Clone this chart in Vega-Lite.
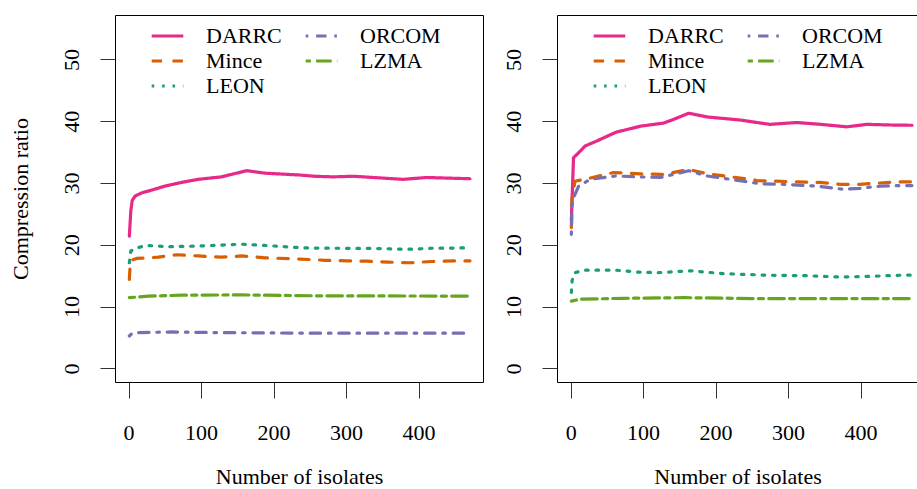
{
  "$schema": "https://vega.github.io/schema/vega-lite/v6.json",
  "background": "white",
  "padding": {"left": 9, "top": 14, "right": 0, "bottom": 0},
  "datasets": {
    "curves": [
      {"panel":"A","method":"DARRC","isolates":1,"ratio":21.4},{"panel":"A","method":"DARRC","isolates":3,"ratio":25.5},{"panel":"A","method":"DARRC","isolates":5,"ratio":27.2},{"panel":"A","method":"DARRC","isolates":9,"ratio":27.9},{"panel":"A","method":"DARRC","isolates":18,"ratio":28.4},{"panel":"A","method":"DARRC","isolates":36,"ratio":29.0},{"panel":"A","method":"DARRC","isolates":50,"ratio":29.5},{"panel":"A","method":"DARRC","isolates":73,"ratio":30.1},{"panel":"A","method":"DARRC","isolates":96,"ratio":30.6},{"panel":"A","method":"DARRC","isolates":128,"ratio":31.0},{"panel":"A","method":"DARRC","isolates":142,"ratio":31.4},{"panel":"A","method":"DARRC","isolates":163,"ratio":32.0},{"panel":"A","method":"DARRC","isolates":188,"ratio":31.6},{"panel":"A","method":"DARRC","isolates":236,"ratio":31.3},{"panel":"A","method":"DARRC","isolates":257,"ratio":31.1},{"panel":"A","method":"DARRC","isolates":282,"ratio":31.0},{"panel":"A","method":"DARRC","isolates":310,"ratio":31.1},{"panel":"A","method":"DARRC","isolates":351,"ratio":30.8},{"panel":"A","method":"DARRC","isolates":379,"ratio":30.6},{"panel":"A","method":"DARRC","isolates":411,"ratio":30.9},{"panel":"A","method":"DARRC","isolates":440,"ratio":30.8},{"panel":"A","method":"DARRC","isolates":471,"ratio":30.7},
      {"panel":"A","method":"Mince","isolates":1,"ratio":14.4},{"panel":"A","method":"Mince","isolates":2,"ratio":16.5},{"panel":"A","method":"Mince","isolates":4,"ratio":17.5},{"panel":"A","method":"Mince","isolates":11,"ratio":17.8},{"panel":"A","method":"Mince","isolates":41,"ratio":18.0},{"panel":"A","method":"Mince","isolates":66,"ratio":18.4},{"panel":"A","method":"Mince","isolates":96,"ratio":18.2},{"panel":"A","method":"Mince","isolates":128,"ratio":18.0},{"panel":"A","method":"Mince","isolates":156,"ratio":18.2},{"panel":"A","method":"Mince","isolates":188,"ratio":17.9},{"panel":"A","method":"Mince","isolates":236,"ratio":17.7},{"panel":"A","method":"Mince","isolates":271,"ratio":17.5},{"panel":"A","method":"Mince","isolates":301,"ratio":17.4},{"panel":"A","method":"Mince","isolates":329,"ratio":17.35},{"panel":"A","method":"Mince","isolates":358,"ratio":17.2},{"panel":"A","method":"Mince","isolates":388,"ratio":17.1},{"panel":"A","method":"Mince","isolates":418,"ratio":17.3},{"panel":"A","method":"Mince","isolates":448,"ratio":17.4},{"panel":"A","method":"Mince","isolates":471,"ratio":17.4},
      {"panel":"A","method":"LEON","isolates":1,"ratio":17.1},{"panel":"A","method":"LEON","isolates":3,"ratio":19.0},{"panel":"A","method":"LEON","isolates":11,"ratio":19.5},{"panel":"A","method":"LEON","isolates":25,"ratio":19.9},{"panel":"A","method":"LEON","isolates":54,"ratio":19.7},{"panel":"A","method":"LEON","isolates":96,"ratio":19.8},{"panel":"A","method":"LEON","isolates":156,"ratio":20.1},{"panel":"A","method":"LEON","isolates":188,"ratio":19.9},{"panel":"A","method":"LEON","isolates":243,"ratio":19.5},{"panel":"A","method":"LEON","isolates":288,"ratio":19.45},{"panel":"A","method":"LEON","isolates":347,"ratio":19.4},{"panel":"A","method":"LEON","isolates":377,"ratio":19.3},{"panel":"A","method":"LEON","isolates":391,"ratio":19.3},{"panel":"A","method":"LEON","isolates":420,"ratio":19.45},{"panel":"A","method":"LEON","isolates":464,"ratio":19.5},{"panel":"A","method":"LEON","isolates":471,"ratio":19.5},
      {"panel":"A","method":"ORCOM","isolates":1,"ratio":5.25},{"panel":"A","method":"ORCOM","isolates":5,"ratio":5.7},{"panel":"A","method":"ORCOM","isolates":13,"ratio":5.8},{"panel":"A","method":"ORCOM","isolates":59,"ratio":5.9},{"panel":"A","method":"ORCOM","isolates":119,"ratio":5.8},{"panel":"A","method":"ORCOM","isolates":257,"ratio":5.7},{"panel":"A","method":"ORCOM","isolates":471,"ratio":5.7},
      {"panel":"A","method":"LZMA","isolates":1,"ratio":11.45},{"panel":"A","method":"LZMA","isolates":27,"ratio":11.7},{"panel":"A","method":"LZMA","isolates":73,"ratio":11.85},{"panel":"A","method":"LZMA","isolates":156,"ratio":11.9},{"panel":"A","method":"LZMA","isolates":257,"ratio":11.75},{"panel":"A","method":"LZMA","isolates":471,"ratio":11.7},
      {"panel":"B","method":"DARRC","isolates":1,"ratio":24.0},{"panel":"B","method":"DARRC","isolates":4,"ratio":34.1},{"panel":"B","method":"DARRC","isolates":11,"ratio":34.9},{"panel":"B","method":"DARRC","isolates":20,"ratio":36.0},{"panel":"B","method":"DARRC","isolates":36,"ratio":36.8},{"panel":"B","method":"DARRC","isolates":62,"ratio":38.2},{"panel":"B","method":"DARRC","isolates":96,"ratio":39.2},{"panel":"B","method":"DARRC","isolates":128,"ratio":39.7},{"panel":"B","method":"DARRC","isolates":142,"ratio":40.3},{"panel":"B","method":"DARRC","isolates":163,"ratio":41.3},{"panel":"B","method":"DARRC","isolates":188,"ratio":40.7},{"panel":"B","method":"DARRC","isolates":234,"ratio":40.2},{"panel":"B","method":"DARRC","isolates":257,"ratio":39.8},{"panel":"B","method":"DARRC","isolates":275,"ratio":39.5},{"panel":"B","method":"DARRC","isolates":312,"ratio":39.8},{"panel":"B","method":"DARRC","isolates":345,"ratio":39.5},{"panel":"B","method":"DARRC","isolates":381,"ratio":39.1},{"panel":"B","method":"DARRC","isolates":409,"ratio":39.5},{"panel":"B","method":"DARRC","isolates":440,"ratio":39.4},{"panel":"B","method":"DARRC","isolates":471,"ratio":39.35},
      {"panel":"B","method":"Mince","isolates":1,"ratio":22.8},{"panel":"B","method":"Mince","isolates":2,"ratio":27.6},{"panel":"B","method":"Mince","isolates":6,"ratio":30.3},{"panel":"B","method":"Mince","isolates":27,"ratio":30.8},{"panel":"B","method":"Mince","isolates":59,"ratio":31.7},{"panel":"B","method":"Mince","isolates":96,"ratio":31.5},{"panel":"B","method":"Mince","isolates":128,"ratio":31.4},{"panel":"B","method":"Mince","isolates":163,"ratio":32.2},{"panel":"B","method":"Mince","isolates":188,"ratio":31.5},{"panel":"B","method":"Mince","isolates":248,"ratio":30.6},{"panel":"B","method":"Mince","isolates":257,"ratio":30.4},{"panel":"B","method":"Mince","isolates":284,"ratio":30.3},{"panel":"B","method":"Mince","isolates":312,"ratio":30.2},{"panel":"B","method":"Mince","isolates":344,"ratio":30.1},{"panel":"B","method":"Mince","isolates":372,"ratio":29.8},{"panel":"B","method":"Mince","isolates":399,"ratio":29.8},{"panel":"B","method":"Mince","isolates":431,"ratio":30.05},{"panel":"B","method":"Mince","isolates":459,"ratio":30.2},{"panel":"B","method":"Mince","isolates":471,"ratio":30.2},
      {"panel":"B","method":"LEON","isolates":1,"ratio":12.3},{"panel":"B","method":"LEON","isolates":2,"ratio":14.2},{"panel":"B","method":"LEON","isolates":6,"ratio":15.5},{"panel":"B","method":"LEON","isolates":20,"ratio":15.9},{"panel":"B","method":"LEON","isolates":62,"ratio":15.9},{"panel":"B","method":"LEON","isolates":92,"ratio":15.6},{"panel":"B","method":"LEON","isolates":121,"ratio":15.5},{"panel":"B","method":"LEON","isolates":165,"ratio":15.8},{"panel":"B","method":"LEON","isolates":209,"ratio":15.35},{"panel":"B","method":"LEON","isolates":266,"ratio":15.1},{"panel":"B","method":"LEON","isolates":326,"ratio":15.0},{"panel":"B","method":"LEON","isolates":370,"ratio":14.8},{"panel":"B","method":"LEON","isolates":400,"ratio":14.85},{"panel":"B","method":"LEON","isolates":460,"ratio":15.1},{"panel":"B","method":"LEON","isolates":471,"ratio":15.1},
      {"panel":"B","method":"ORCOM","isolates":1,"ratio":21.7},{"panel":"B","method":"ORCOM","isolates":2,"ratio":27.1},{"panel":"B","method":"ORCOM","isolates":11,"ratio":29.5},{"panel":"B","method":"ORCOM","isolates":27,"ratio":30.6},{"panel":"B","method":"ORCOM","isolates":62,"ratio":31.15},{"panel":"B","method":"ORCOM","isolates":96,"ratio":31.0},{"panel":"B","method":"ORCOM","isolates":124,"ratio":30.9},{"panel":"B","method":"ORCOM","isolates":163,"ratio":32.0},{"panel":"B","method":"ORCOM","isolates":188,"ratio":31.15},{"panel":"B","method":"ORCOM","isolates":238,"ratio":30.3},{"panel":"B","method":"ORCOM","isolates":261,"ratio":29.9},{"panel":"B","method":"ORCOM","isolates":294,"ratio":29.8},{"panel":"B","method":"ORCOM","isolates":340,"ratio":29.5},{"panel":"B","method":"ORCOM","isolates":376,"ratio":29.0},{"panel":"B","method":"ORCOM","isolates":399,"ratio":29.15},{"panel":"B","method":"ORCOM","isolates":427,"ratio":29.5},{"panel":"B","method":"ORCOM","isolates":459,"ratio":29.6},{"panel":"B","method":"ORCOM","isolates":471,"ratio":29.6},
      {"panel":"B","method":"LZMA","isolates":1,"ratio":10.9},{"panel":"B","method":"LZMA","isolates":13,"ratio":11.2},{"panel":"B","method":"LZMA","isolates":73,"ratio":11.35},{"panel":"B","method":"LZMA","isolates":156,"ratio":11.45},{"panel":"B","method":"LZMA","isolates":257,"ratio":11.3},{"panel":"B","method":"LZMA","isolates":471,"ratio":11.3}
    ]
  },
  "config": {
    "font": "Liberation Serif",
    "view": {"stroke": "black", "strokeWidth": 1},
    "axis": {"grid": false, "domain": false, "ticks": true, "tickColor": "#333333", "tickWidth": 1, "labelColor": "black", "titleColor": "black", "labelFont": "Liberation Serif", "titleFont": "Liberation Serif", "labelFontSize": 22, "titleFontSize": 22, "titleFontWeight": "normal", "labelFlush": false, "labelOverlap": false},
    "axisY": {"tickSize": 15, "labelPadding": 22, "labelAngle": 270, "labelAlign": "center", "labelBaseline": "alphabetic"},
    "axisX": {"tickSize": 16, "labelPadding": 41, "labelBaseline": "alphabetic"},
    "legend": {"orient": "none", "legendX": 35, "legendY": 8.5, "columns": 2, "symbolType": "stroke", "symbolSize": 1000, "symbolStrokeWidth": 3.2, "labelFont": "Liberation Serif", "labelFontSize": 22, "labelColor": "black", "labelOffset": 21, "clipHeight": 25, "rowPadding": 0, "columnPadding": 22, "padding": 0, "title": null, "labelLimit": 300}
  },
  "hconcat": [
    {
      "width": 368, "height": 367,
      "data": {"name": "curves"},
      "transform": [{"filter": "datum.panel === 'A'"}],
      "mark": {"type": "line", "strokeWidth": 3.2, "strokeCap": "round", "strokeJoin": "round"},
      "encoding": {
        "x": {"field": "isolates", "type": "quantitative", "scale": {"domain": [-18.8, 489], "nice": false, "zero": false},
              "axis": {"values": [0, 100, 200, 300, 400], "title": "Number of isolates", "titleY": 101, "titleBaseline": "alphabetic"}},
        "y": {"field": "ratio", "type": "quantitative", "scale": {"domain": [-2.2, 57.2], "nice": false, "zero": false},
              "axis": {"values": [0, 10, 20, 30, 40, 50], "title": "Compression ratio", "titleAngle": 270, "titleX": -87.5, "titleBaseline": "alphabetic"}},
        "color": {"field": "method", "type": "nominal", "scale": {"domain": ["DARRC", "Mince", "LEON", "ORCOM", "LZMA"], "range": ["#E7298A", "#D95F02", "#1B9E77", "#7570B3", "#66A61E"]}},
        "strokeDash": {"field": "method", "type": "nominal", "scale": {"domain": ["DARRC", "Mince", "LEON", "ORCOM", "LZMA"], "range": [[1, 0], [10.4, 10.4], [2.6, 7.8], [2.6, 7.8, 10.4, 7.8], [5.2, 5.2, 15.6, 5.2]]}}
      }
    },
    {
      "width": 361, "height": 367,
      "data": {"name": "curves"},
      "transform": [{"filter": "datum.panel === 'B'"}],
      "mark": {"type": "line", "strokeWidth": 3.2, "strokeCap": "round", "strokeJoin": "round"},
      "encoding": {
        "x": {"field": "isolates", "type": "quantitative", "scale": {"domain": [-18.8, 479.3], "nice": false, "zero": false},
              "axis": {"values": [0, 100, 200, 300, 400], "title": "Number of isolates", "titleY": 101, "titleBaseline": "alphabetic"}},
        "y": {"field": "ratio", "type": "quantitative", "scale": {"domain": [-2.2, 57.2], "nice": false, "zero": false},
              "axis": {"values": [0, 10, 20, 30, 40, 50], "title": null}},
        "color": {"field": "method", "type": "nominal", "scale": {"domain": ["DARRC", "Mince", "LEON", "ORCOM", "LZMA"], "range": ["#E7298A", "#D95F02", "#1B9E77", "#7570B3", "#66A61E"]}},
        "strokeDash": {"field": "method", "type": "nominal", "scale": {"domain": ["DARRC", "Mince", "LEON", "ORCOM", "LZMA"], "range": [[1, 0], [10.4, 10.4], [2.6, 7.8], [2.6, 7.8, 10.4, 7.8], [5.2, 5.2, 15.6, 5.2]]}}
      }
    }
  ],
  "spacing": 74,
  "bounds": "flush",
  "resolve": {
    "scale": {"x": "independent", "y": "independent", "color": "independent", "strokeDash": "independent"},
    "axis": {"x": "independent", "y": "independent"},
    "legend": {"color": "independent", "strokeDash": "independent"}
  }
}
